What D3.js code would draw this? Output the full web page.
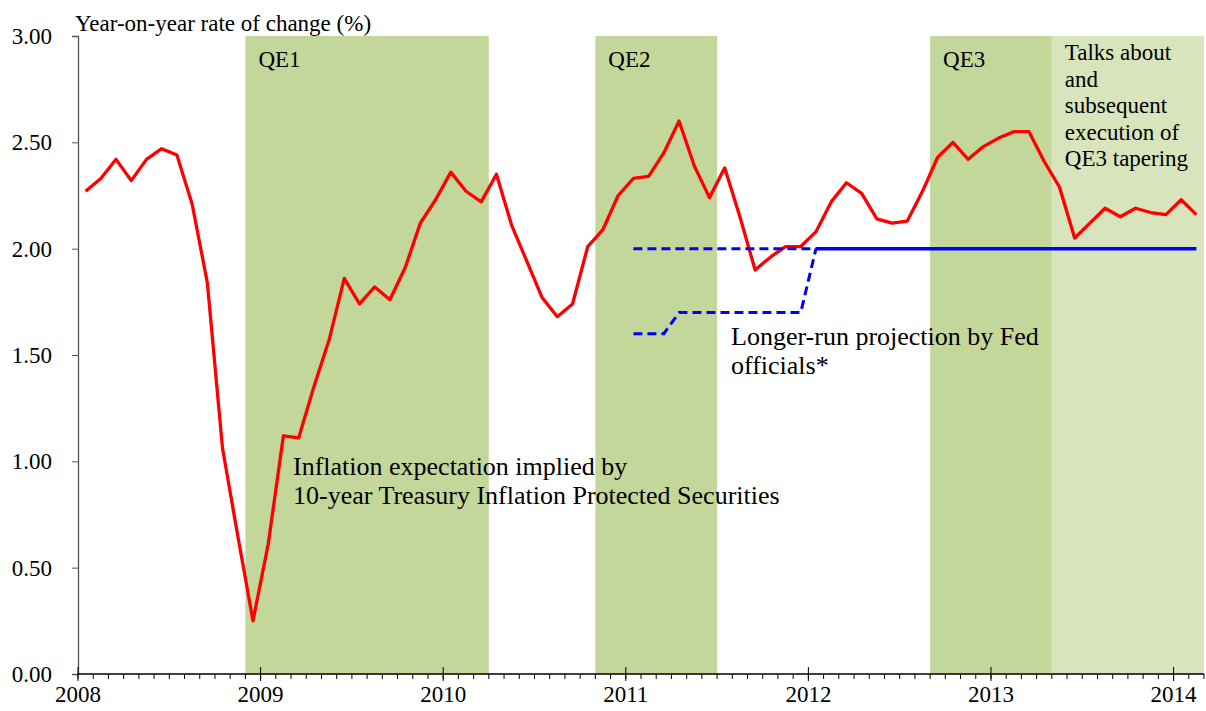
<!DOCTYPE html>
<html>
<head>
<meta charset="utf-8">
<script src="https://cdn.jsdelivr.net/npm/d3@7"></script>
<style>
  body { margin: 0; background: #fff; }
  svg { display: block; font-family: "Liberation Serif", "Times New Roman", serif; }
</style>
</head>
<body>
<div id="wrapper"></div>
<script>
// monthly index: 0 = Jan 2008
const startYear = 2008
const years = [2008, 2009, 2010, 2011, 2012, 2013, 2014]
const yTicks = [0, 0.5, 1, 1.5, 2, 2.5, 3]

// 10-year TIPS breakeven, Jan 2008 .. Feb 2014
const tipsValues = [
  2.27, 2.33, 2.42, 2.32, 2.42, 2.47, 2.44, 2.21, 1.84, 1.06, 0.65, 0.25,
  0.61, 1.12, 1.11, 1.35, 1.57, 1.86, 1.74, 1.82, 1.76, 1.91, 2.12, 2.23,
  2.36, 2.27, 2.22, 2.35, 2.11, 1.94, 1.77, 1.68, 1.74, 2.01, 2.09, 2.25,
  2.33, 2.34, 2.45, 2.60, 2.39, 2.24, 2.38, 2.15, 1.90, 1.96, 2.01, 2.01,
  2.08, 2.22, 2.31, 2.26, 2.14, 2.12, 2.13, 2.27, 2.43, 2.50, 2.42, 2.48,
  2.52, 2.55, 2.55, 2.41, 2.29, 2.05, 2.12, 2.19, 2.15, 2.19, 2.17, 2.16,
  2.23, 2.16
]

// Fed longer-run projection (central tendency), from Jan 2011
const projStart = 36
const projUpper = [2.0, 2.0, 2.0, 2.0, 2.0, 2.0, 2.0, 2.0, 2.0, 2.0, 2.0, 2.0, 2.0]
const projLower = [1.6, 1.6, 1.6, 1.7, 1.7, 1.7, 1.7, 1.7, 1.7, 1.7, 1.7, 1.7, 2.0]
// single 2% goal from Jan 2012
const goalStart = 48
const goalValues = [
  2.0, 2.0, 2.0, 2.0, 2.0, 2.0, 2.0, 2.0, 2.0, 2.0, 2.0, 2.0,
  2.0, 2.0, 2.0, 2.0, 2.0, 2.0, 2.0, 2.0, 2.0, 2.0, 2.0, 2.0,
  2.0, 2.0
]

// shaded periods in month index
const periodNames = ['QE1', 'QE2', 'QE3', 'taper']
const periodStart = [11, 34, 56, 64]
const periodEnd = [27, 42, 64, 74]

const dimensions = {
  width: 1206,
  height: 711,
  margin: { top: 36, right: 2, bottom: 37, left: 78 }
}
dimensions.boundedWidth = dimensions.width - dimensions.margin.left - dimensions.margin.right
dimensions.boundedHeight = dimensions.height - dimensions.margin.top - dimensions.margin.bottom

const totalMonths = 74

const xScale = d3.scaleLinear()
  .domain([0, totalMonths])
  .range([0, dimensions.boundedWidth])

const yScale = d3.scaleLinear()
  .domain([0, 3])
  .range([dimensions.boundedHeight, 0])

const wrapper = d3.select('#wrapper')
  .append('svg')
  .attr('width', dimensions.width)
  .attr('height', dimensions.height)

const bounds = wrapper.append('g')
  .attr('transform', `translate(${dimensions.margin.left} ${dimensions.margin.top})`)

/* SHADED PERIODS */
bounds.append('g')
  .selectAll('rect')
  .data(d3.range(periodNames.length))
  .join('rect')
  .attr('x', i => xScale(periodStart[i]))
  .attr('width', i => xScale(periodEnd[i]) - xScale(periodStart[i]))
  .attr('y', 0)
  .attr('height', dimensions.boundedHeight)
  .attr('fill', i => periodNames[i] === 'taper' ? '#d8e4bc' : '#c4d79b')

/* LINES */
const lineGen = offset => d3.line()
  .x((d, i) => xScale(offset + i + 0.5))
  .y(d => yScale(d))

bounds.append('path')
  .attr('d', lineGen(0)(tipsValues))
  .attr('fill', 'none')
  .attr('stroke', '#ff0000')
  .attr('stroke-width', 3.3)
  .attr('stroke-linejoin', 'round')

bounds.append('g')
  .selectAll('path')
  .data([projUpper, projLower])
  .join('path')
  .attr('d', d => lineGen(projStart)(d))
  .attr('fill', 'none')
  .attr('stroke', '#0000ff')
  .attr('stroke-width', 3)
  .attr('stroke-dasharray', '9 5')

bounds.append('path')
  .attr('d', lineGen(goalStart)(goalValues))
  .attr('fill', 'none')
  .attr('stroke', '#0000ff')
  .attr('stroke-width', 3.5)

/* AXES */
const yAxis = d3.axisLeft(yScale)
  .tickValues(yTicks)
  .tickSize(6)
  .tickFormat(d3.format('.2f'))

const yAxisGroup = bounds.append('g').call(yAxis)
yAxisGroup.select('.domain').attr('stroke', '#555').attr('stroke-width', 1.3)
yAxisGroup.selectAll('.tick line').attr('stroke', '#555')
yAxisGroup.selectAll('.tick text')
  .attr('x', -26)
  .attr('font-size', 23)
  .attr('font-family', '"Liberation Serif", "Times New Roman", serif')
  .attr('fill', '#000')

const xAxisGroup = bounds.append('g')
  .attr('transform', `translate(0 ${dimensions.boundedHeight})`)

xAxisGroup.append('line')
  .attr('x1', 0)
  .attr('x2', dimensions.boundedWidth)
  .attr('stroke', '#000')
  .attr('stroke-width', 1.3)

xAxisGroup.selectAll('.minor')
  .data(d3.range(totalMonths + 1))
  .join('line')
  .attr('class', 'minor')
  .attr('x1', d => xScale(d))
  .attr('x2', d => xScale(d))
  .attr('y1', 0)
  .attr('y2', 5)
  .attr('stroke', '#000')

xAxisGroup.selectAll('.major')
  .data(years)
  .join('line')
  .attr('class', 'major')
  .attr('x1', d => xScale((d - startYear) * 12))
  .attr('x2', d => xScale((d - startYear) * 12))
  .attr('y1', -7)
  .attr('y2', 7)
  .attr('stroke', '#000')

xAxisGroup.selectAll('text')
  .data(years)
  .join('text')
  .attr('x', d => xScale((d - startYear) * 12))
  .attr('y', 28)
  .attr('text-anchor', 'middle')
  .attr('font-size', 23)
  .text(d => d)

/* LABELS */
wrapper.append('text')
  .attr('x', 75)
  .attr('y', 31)
  .attr('font-size', 23)
  .text('Year-on-year rate of change (%)')

const qeLabels = bounds.append('g').attr('font-size', 23)
qeLabels.selectAll('text')
  .data([0, 1, 2])
  .join('text')
  .attr('x', i => xScale(periodStart[i]) + 13)
  .attr('y', 31)
  .text(i => periodNames[i])

const taperLines = ['Talks about', 'and', 'subsequent', 'execution of', 'QE3 tapering']
bounds.append('text')
  .attr('font-size', 23)
  .selectAll('tspan')
  .data(taperLines)
  .join('tspan')
  .attr('x', xScale(periodStart[3]) + 13)
  .attr('y', (d, i) => 24 + i * 26.6)
  .text(d => d)

const tipsLabel = ['Inflation expectation implied by', '10-year Treasury Inflation Protected Securities']
bounds.append('text')
  .attr('font-size', 26)
  .selectAll('tspan')
  .data(tipsLabel)
  .join('tspan')
  .attr('x', 215)
  .attr('y', (d, i) => 439 + i * 29)
  .text(d => d)

const projLabel = ['Longer-run projection by Fed', 'officials*']
bounds.append('text')
  .attr('font-size', 26)
  .selectAll('tspan')
  .data(projLabel)
  .join('tspan')
  .attr('x', 653)
  .attr('y', (d, i) => 309 + i * 28.5)
  .text(d => d)
</script>
</body>
</html>
